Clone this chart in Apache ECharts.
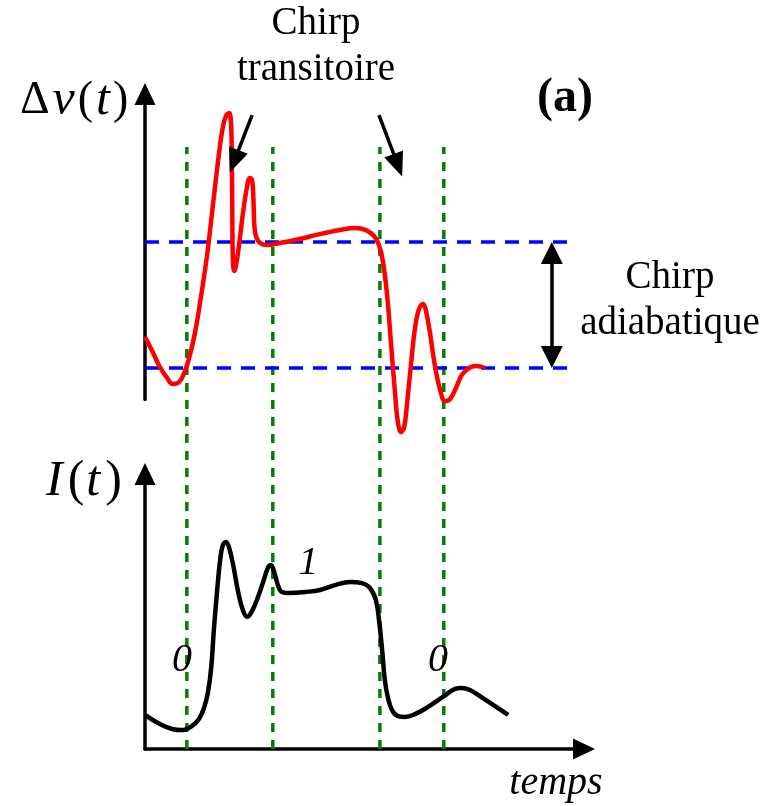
<!DOCTYPE html>
<html><head><meta charset="utf-8">
<script src="https://cdn.jsdelivr.net/npm/echarts@6/dist/echarts.min.js"></script>
<style>html,body{margin:0;padding:0;background:#fff}#c{width:769px;height:806px}</style>
</head><body><div id="c"></div>
<script>
// time axis (arbitrary units)
var chirpT = [0,1.6,3.3,4.9,6.2,7.6,8.7,9.8,11.1,12.4,13.8,15.1,16.4,17.3,18.0,18.7,19.1,19.3,19.4,19.5,19.8,20.2,20.9,21.8,22.7,23.3,23.8,24.1,24.3,24.7,25.6,27.3,30.0,34.4,38.9,43.3,46.7,49.1,50.9,52.0,52.9,53.8,54.7,55.6,56.2,56.9,57.6,58.2,59.1,60.0,60.9,61.8,62.4,63.3,64.4,65.6,66.7,67.8,69.1,70.4,72.0,73.6,75.6];
var chirpV = [0.246,0.135,0.008,-0.079,-0.127,-0.111,-0.040,0.079,0.278,0.556,0.897,1.294,1.690,1.913,2.0,2.024,1.952,1.651,1.254,0.897,0.770,0.810,0.976,1.238,1.444,1.508,1.492,1.333,1.135,1.040,0.992,0.976,0.992,1.024,1.063,1.095,1.111,1.095,1.048,0.976,0.841,0.579,0.183,-0.214,-0.429,-0.508,-0.468,-0.294,0.024,0.317,0.468,0.508,0.460,0.286,0.024,-0.175,-0.262,-0.246,-0.159,-0.056,0,0.016,0];
var powerT = [0,3.3,6.0,8.2,10.4,12.0,13.1,14.0,14.7,15.3,16.0,16.7,17.3,18.0,18.7,19.6,20.7,21.8,22.7,23.8,25.1,26.4,27.3,28.0,28.7,29.6,30.4,32.2,35.6,38.9,42.2,45.6,48.2,50.0,51.3,52.0,52.7,53.3,54.0,54.9,56.2,57.8,60.0,62.9,66.2,68.9,70.4,72.2,75.1,77.8,80.7];
var powerI = [1.19,0.87,0.70,0.66,0.80,1.05,1.43,1.99,2.83,4.16,5.49,6.61,7.13,7.24,7.03,6.43,5.49,4.83,4.62,4.83,5.31,5.91,6.33,6.43,6.19,5.70,5.49,5.45,5.49,5.56,5.73,5.84,5.80,5.63,5.21,4.51,3.46,2.41,1.78,1.36,1.15,1.12,1.22,1.47,1.82,2.10,2.13,2.06,1.78,1.50,1.19];
var bitMarkers = [9.3, 28.4, 52.2, 66.4];   // green dashed time markers
var adiabLevels = [0, 1];                   // blue dashed chirp levels
var adiabEnd = 94.9;
var adiabArrowT = 90.4;
var transArrows = [[[23.8,2.008],[19.8,1.64]], [[52.0,2.008],[56.2,1.61]]];
var bitLabels = [['0',8.2,3.1],['1',36.3,6.5],['0',65.1,3.1]]; // [text, t, I]

var chart = echarts.init(document.getElementById('c'), null, {renderer:'canvas'});
function zip(a,b){return a.map(function(v,i){return [v,b[i]];});}
var serif = '"Liberation Serif","DejaVu Serif",serif';
var axLine = {show:true, lineStyle:{color:'#000', width:3.5}, symbol:['none','triangle'], symbolSize:[21,22]};
var hidden = {show:false};
function xa(i, showLine){return {type:'value', gridIndex:i, min:0, max:97.56, axisLine: showLine?axLine:hidden, axisTick:hidden, axisLabel:hidden, splitLine:hidden};}
function ya(i, mn, mx, showLine){return {type:'value', gridIndex:i, min:mn, max:mx, axisLine: showLine?axLine:hidden, axisTick:hidden, axisLabel:hidden, splitLine:hidden};}

var series = [];
bitMarkers.forEach(function(t){
  series.push({type:'line', xAxisIndex:2, yAxisIndex:2, data:[[t,0],[t,1]], symbol:'none', silent:true,
    lineStyle:{color:'#008000', width:3.5, type:[9,8]}, z:1});
});
adiabLevels.forEach(function(v){
  series.push({type:'line', xAxisIndex:0, yAxisIndex:0, data:[[0,v],[adiabEnd,v]], symbol:'none', silent:true,
    lineStyle:{color:'#0000ff', width:3.5, type:[14,10]}, z:2});
});
series.push({type:'line', xAxisIndex:0, yAxisIndex:0, data:zip(chirpT, chirpV), symbol:'none', smooth:0.4, clip:false,
  lineStyle:{color:'#ff0000', width:4.5}, z:3,
  markLine:{silent:true, animation:false, label:{show:false},
    data:[
      [{coord:[adiabArrowT, adiabLevels[0]+0.087], symbol:'triangle', symbolSize:[22,22]}, {coord:[adiabArrowT, adiabLevels[1]-0.087], symbol:'triangle', symbolSize:[22,22]}],
      [{coord:transArrows[0][0], symbol:'none'}, {coord:transArrows[0][1], symbol:'triangle', symbolSize:[20,24]}],
      [{coord:transArrows[1][0], symbol:'none'}, {coord:transArrows[1][1], symbol:'triangle', symbolSize:[20,24]}]
    ],
    lineStyle:{color:'#000', width:3.5, type:'solid'}}
});
series.push({type:'line', xAxisIndex:1, yAxisIndex:1, data:zip(powerT, powerI), symbol:'none', smooth:0.4,
  lineStyle:{color:'#000', width:4.5}, z:3,
  markPoint:{silent:true, symbol:'circle', symbolSize:1, itemStyle:{color:'rgba(0,0,0,0)'},
    label:{show:true, position:'inside', color:'#000', fontFamily:serif, fontStyle:'italic', fontSize:40, formatter:'{b}'},
    data: bitLabels.map(function(b){return {name:b[0], coord:[b[1],b[2]]};})}
});

var option = {
  backgroundColor:'#fff',
  animation:false,
  grid:[
    {left:145, top:94, width:439, height:305.5},
    {left:145, top:474, width:439, height:275},
    {left:145, top:147, width:439, height:602}
  ],
  xAxis:[xa(0,false), xa(1,true), xa(2,false)],
  yAxis:[ya(0,-0.25,2.175,true), ya(1,0,9.615,true), ya(2,0,1,false)],
  series: series,
  graphic:[
    {type:'text', x:316, y:24, style:{text:'Chirp', font:'39px '+serif, fill:'#000', align:'center', verticalAlign:'middle'}},
    {type:'text', x:316, y:70, style:{text:'transitoire', font:'39px '+serif, fill:'#000', align:'center', verticalAlign:'middle'}},
    {type:'text', x:565, y:99, style:{text:'(a)', font:'bold 48px '+serif, fill:'#000', align:'center', verticalAlign:'middle'}},
    {type:'text', x:670, y:278, style:{text:'Chirp', font:'39px '+serif, fill:'#000', align:'center', verticalAlign:'middle'}},
    {type:'text', x:670, y:324, style:{text:'adiabatique', font:'39px '+serif, fill:'#000', align:'center', verticalAlign:'middle'}},
    {type:'text', x:556, y:783, style:{text:'temps', font:'italic 40px '+serif, fill:'#000', align:'center', verticalAlign:'middle'}},
    {type:'text', x:20, y:101, style:{text:'{a|Δ}{b|ν}{a|(}{b|t}{a|)}', align:'left', verticalAlign:'middle',
      rich:{a:{fontFamily:serif, fontSize:46, color:'#000'}, b:{fontFamily:serif, fontStyle:'italic', fontSize:50, color:'#000', padding:[0,3,0,3]}}}},
    {type:'text', x:44, y:482, style:{text:'{b|I}{a|(}{b|t}{a|)}', align:'left', verticalAlign:'middle',
      rich:{a:{fontFamily:serif, fontSize:50, color:'#000'}, b:{fontFamily:serif, fontStyle:'italic', fontSize:50, color:'#000', padding:[0,5,0,2]}}}}
  ]
};
chart.setOption(option);
</script></body></html>
